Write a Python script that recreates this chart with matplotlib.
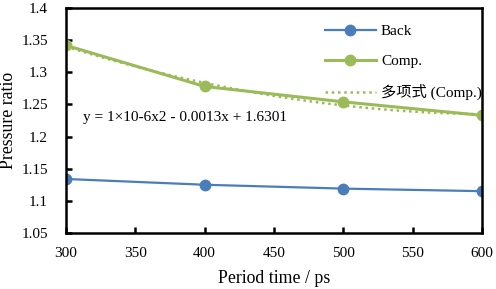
import numpy as np
import matplotlib.pyplot as plt

plt.rcParams['font.family'] = ['Liberation Serif', 'Noto Sans CJK SC']

# data
period = [300, 400, 500, 600]
back = [1.134, 1.125, 1.119, 1.115]
comp = [1.342, 1.278, 1.254, 1.233]

# quadratic trendline of Comp (as in the chart)
coef = np.polyfit(period, comp, 2)
xs = np.linspace(300, 600, 100)
trend = np.polyval(coef, xs)

blue = '#4a7ebb'
green = '#9bbb59'

fig = plt.figure(figsize=(4.96, 2.89), dpi=100)
ax = fig.add_axes([0.133, 0.194, 0.839, 0.778])

ax.plot(period, back, color=blue, lw=1.6, marker='o', ms=7.5, label='Back')
ax.plot(period, comp, color=green, lw=2.2, marker='o', ms=7.5, label='Comp.')
ax.plot(xs, trend, color=green, lw=1.8, ls=(0, (1, 1.5)), label='多项式 (Comp.)')

ax.text(312, 1.229, 'y = 1×10-6x2 - 0.0013x + 1.6301', fontsize=11, va='center')

ax.set_xlim(300, 600)
ax.set_ylim(1.05, 1.4)
ax.set_xticks(np.arange(300, 601, 50))
ax.set_yticks(np.arange(1.05, 1.401, 0.05))
ax.set_yticklabels(['1.05', '1.1', '1.15', '1.2', '1.25', '1.3', '1.35', '1.4'])
ax.tick_params(direction='in', length=4, width=1.8, labelsize=11)
ax.tick_params(axis='y', right=False, pad=13)
ax.tick_params(axis='x', top=False, pad=10)
for s in ax.spines.values():
    s.set_linewidth(1.8)

ax.set_xlabel('Period time / ps', fontsize=12.8, labelpad=7)
ax.set_ylabel('Pressure ratio', fontsize=12.8, labelpad=3)

leg = ax.legend(loc='upper left', bbox_to_anchor=(0.623, 0.927), frameon=False,
                fontsize=11, handlelength=3.3, handletextpad=0.35,
                labelspacing=1.05, borderaxespad=0, borderpad=0)

fig.savefig('out.png', dpi=100)
